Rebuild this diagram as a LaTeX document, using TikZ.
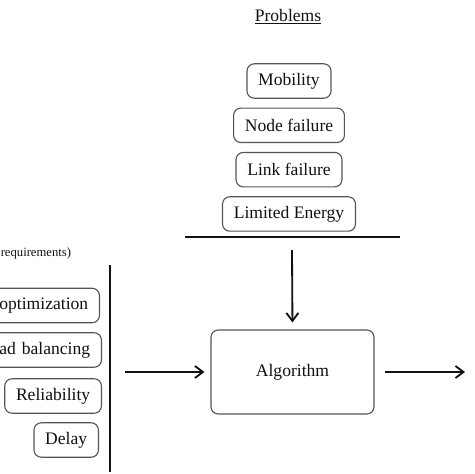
\documentclass[tikz,border=0pt]{standalone}
\usepackage{fontspec}
\setmainfont{Liberation Serif}
\usetikzlibrary{arrows.meta,positioning}
\definecolor{ink}{HTML}{111111}
\definecolor{boxc}{HTML}{555555}

\begin{document}
\begin{tikzpicture}[x=0.25mm,y=-0.25mm,node distance=2.2mm,every node/.style={font=\fontsize{12.5}{15}\selectfont,text=ink}]
\tikzstyle{box}=[rounded corners=1.8mm,draw=boxc,line width=0.8pt,fill=white,minimum height=8.6mm,inner xsep=8pt]
\tikzstyle{arr}=[-{Straight Barb[length=2mm,width=3mm]},line width=1.3pt,ink]
\useasboundingbox (0,0) rectangle (474,474);
\clip (0,0) rectangle (474,474);
% problems
\node (prob) at (288,17) {\underline{Problems}};
\node[box] (mob) at (289,81) {Mobility};
\node[box,below=of mob] (nodef) {Node failure};
\node[box,below=of nodef] (linkf) {Link failure};
\node[box,below=of linkf] (energy) {Limited Energy};
\coordinate (barl) at (185,237);
\coordinate (barr) at (400,237);
\draw[line width=1.8pt,ink] (barl) -- (barr);
% algorithm
\node[box,minimum width=40.75mm,minimum height=21mm] (alg) at (292.5,372) {Algorithm};
\coordinate (probout) at (292,250);
\draw[arr,shorten >=1.75mm] (probout) -- (alg.north);
% requirements
\node[anchor=east,font=\fontsize{9}{11}\selectfont] (req) at (76,253) {requirements)};
\node[box,anchor=east,text width=30mm,align=right] (opt) at (100,305.5) {optimization};
\node[box,anchor=east,text width=30mm,align=right] (load) at (102,350) {ad balancing};
\node[box,anchor=east] (rel) at (102,396) {Reliability};
\node[box,anchor=east,minimum width=16mm] (delay) at (99,440) {Delay};
\coordinate (reqt) at (110,265);
\coordinate (reqb) at (110,472);
\draw[line width=1.8pt,ink] (reqt) -- (reqb);
\coordinate (reqout) at (125,372);
\draw[arr,shorten >=1.5mm] (reqout) -- (alg.west);
\coordinate (algout) at (465,372);
\draw[arr,shorten <=2.5mm] (alg.east) -- (algout);
\end{tikzpicture}
\end{document}
